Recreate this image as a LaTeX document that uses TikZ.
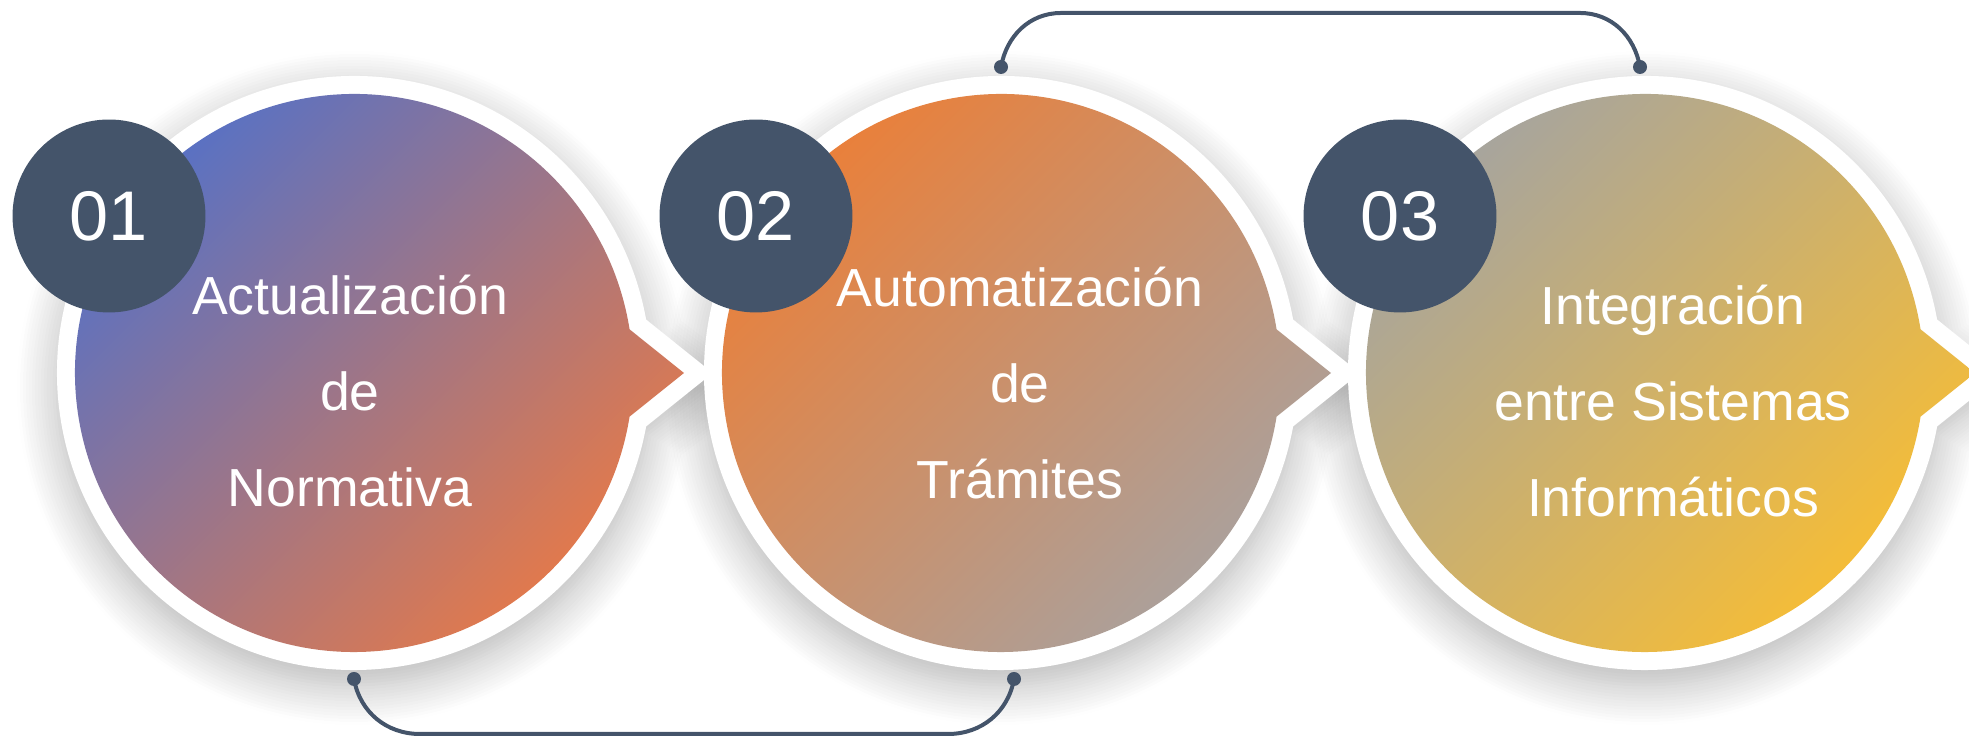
\documentclass[tikz,border=0pt]{standalone}
\usepackage{fontspec}
\setmainfont{Liberation Sans}
\usepackage{pgf,tikz}
\usetikzlibrary{calc,                 % Calculs de coordonnées entre $ $
           shadows.blur,              % ombres floues
           positioning}
\definecolor{ar}{RGB}{68,84,106}
\definecolor{bl}{RGB}{86,113,198}
\definecolor{or}{RGB}{233,122,70}
\definecolor{oc}{RGB}{235,127,56}
\definecolor{gr}{RGB}{168,162,160}
\definecolor{gc}{RGB}{165,164,160}
\definecolor{ja}{RGB}{249,190,50}
% bulle : centre, rayon, pointe
\newcommand{\bulle}[3]{($(#1)+(9:#2)$) arc[start angle=9,end angle=351,radius=#2]--($(#1)+(#3,0)$)--cycle}

\begin{document}
\begin{tikzpicture}[x=0.02cm,y=0.02cm,
  ombre/.style={blur shadow={shadow xshift=0cm,shadow yshift=-0.3cm,shadow blur radius=0.8cm,shadow blur steps=14,shadow opacity=30}},
  bord/.style={draw=white,fill=white,line width=0.72cm,line join=miter},
  degrade/.style 2 args={top color=#1,bottom color=#2,shading angle=45},
  pastille/.style={circle,fill=ar,minimum size=3.86cm,inner sep=0,text=white,font=\fontsize{40}{40}\selectfont},
  titre/.style={align=center,text=white,font=\fontsize{30.5}{54.6}\selectfont},
  point/.style={circle,fill=ar,inner sep=0,minimum size=0.28cm},
  lien/.style={draw=ar,line width=0.08cm}]
\useasboundingbox(0,0)rectangle(1969,739);
\coordinate(c1)at(354,366);
\coordinate(c2)at(1001,366);
\coordinate(c3)at(1645,366);
\path[ombre]\bulle{c1}{297}{355};
\path[ombre]\bulle{c2}{297}{355};
\path[ombre]\bulle{c3}{297}{355};
\draw[bord]\bulle{c1}{279}{330};
\draw[bord]\bulle{c2}{279}{330};
\draw[bord]\bulle{c3}{279}{330};
\shade[degrade={bl}{or}]\bulle{c1}{279}{330};
\shade[degrade={oc}{gr}]\bulle{c2}{279}{330};
\shade[degrade={gc}{ja}]\bulle{c3}{279}{330};
\node[pastille](n1)at($(c1)+(-245,157)$){01};
\node[pastille](n2)at($(c2)+(-245,157)$){02};
\node[pastille](n3)at($(c3)+(-245,157)$){03};
\node[titre](t1)at(350,348){Actualización\\de\\Normativa};
\node[titre](t2)at(1020,356){Automatización\\de\\Trámites};
\node[titre](t3)at(1673,338){Integración\\entre Sistemas\\Informáticos};
\node[point](h1)at(1001,672){};
\node[point](h2)at(1640,672){};
\draw[lien](h1.center)to[out=80,in=180]($(h1)+(60,54)$)--($(h2)+(-60,54)$)to[out=0,in=100](h2.center);
\node[point](k1)at(354,60){};
\node[point](k2)at(1014,60){};
\draw[lien](k1.center)to[out=-80,in=180]($(k1)+(66,-55)$)--($(k2)+(-66,-55)$)to[out=0,in=-100](k2.center);
\end{tikzpicture}
\end{document}
